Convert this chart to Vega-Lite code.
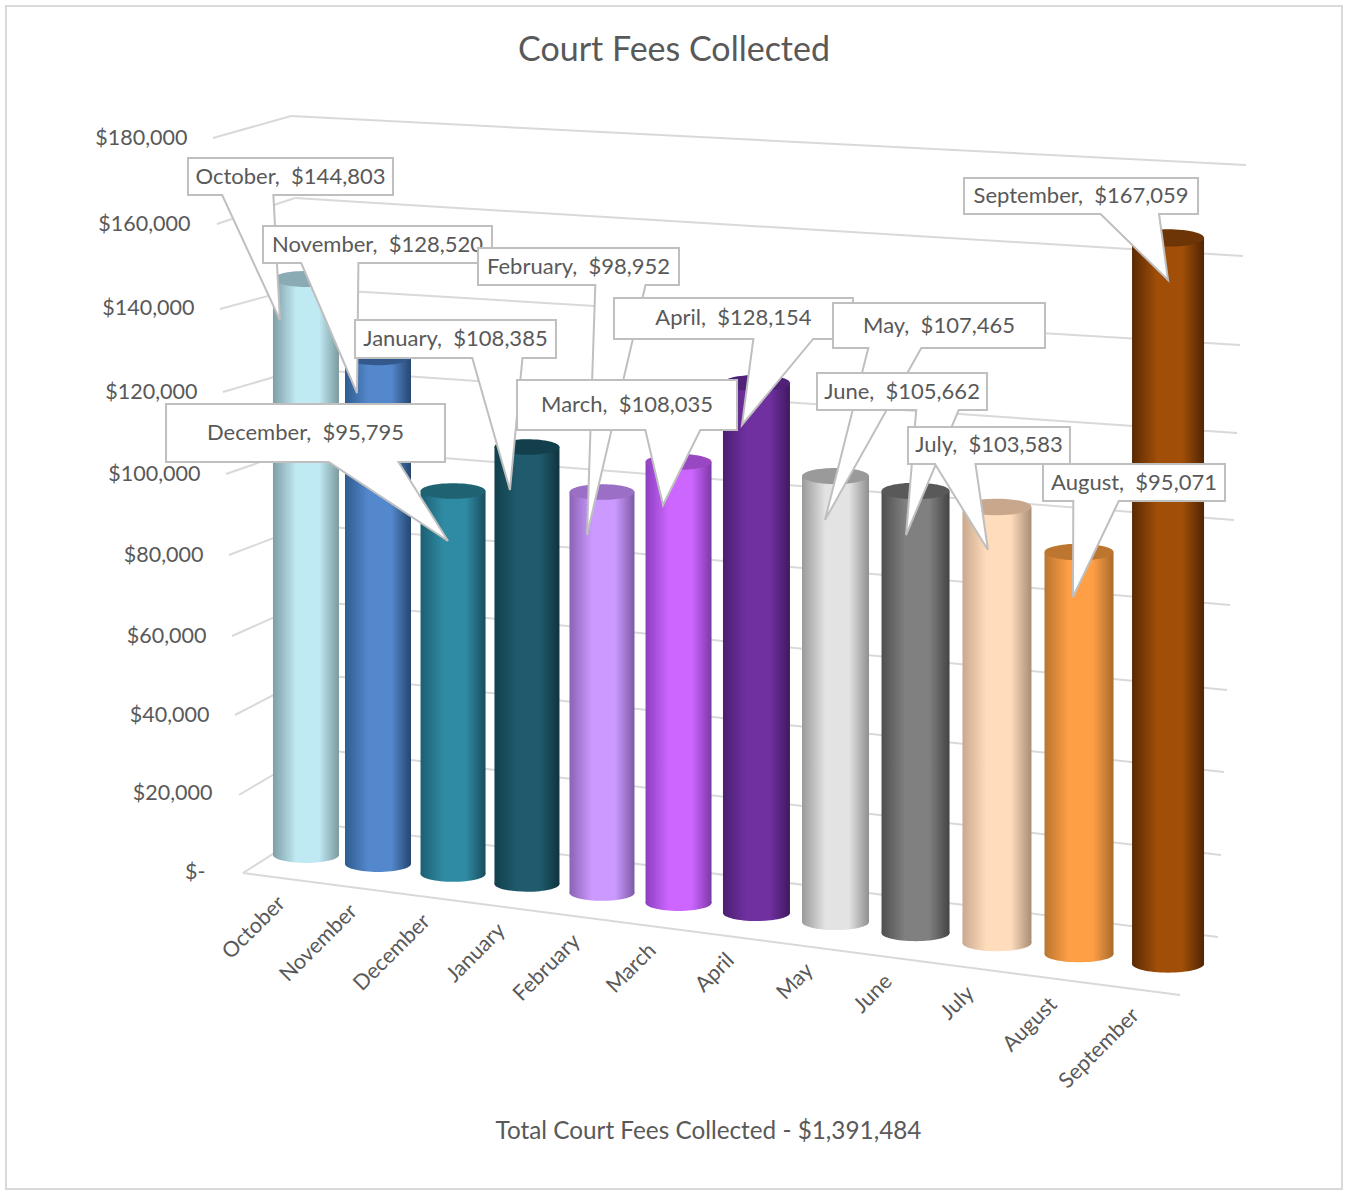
{
"$schema":"https://vega.github.io/schema/vega-lite/v6.json",
"width":1336,"height":1183,"autosize":{"type":"none"},"padding":{"left":6,"top":6,"right":6,"bottom":1},
"background":"white",
"view":{"stroke":"#d9d9d9","strokeWidth":2,"fill":"white"},
"title":{"text":"Court Fees Collected","font":"Lato","fontSize":34,"fontWeight":"normal","color":"#595959","anchor":"middle","offset":-62},
"data":{"values":[
{"month":"October","value":144803,"label":"October, \u00a0$144,803"},
{"month":"November","value":128520,"label":"November, \u00a0$128,520"},
{"month":"December","value":95795,"label":"December, \u00a0$95,795"},
{"month":"January","value":108385,"label":"January, \u00a0$108,385"},
{"month":"February","value":98952,"label":"February, \u00a0$98,952"},
{"month":"March","value":108035,"label":"March, \u00a0$108,035"},
{"month":"April","value":128154,"label":"April, \u00a0$128,154"},
{"month":"May","value":107465,"label":"May, \u00a0$107,465"},
{"month":"June","value":105662,"label":"June, \u00a0$105,662"},
{"month":"July","value":103583,"label":"July, \u00a0$103,583"},
{"month":"August","value":95071,"label":"August, \u00a0$95,071"},
{"month":"September","value":167059,"label":"September, \u00a0$167,059"}
]},
"encoding":{
"x":{"field":"month","type":"nominal","sort":null,"scale":{"type":"band","domain":["October","November","December","January","February","March","April","May","June","July","August","September"],"range":[259,1199],"padding":0},
"axis":{"title":"Total Court Fees Collected - $1,391,484","titleFont":"Lato","titleFontSize":24.3,"titleFontWeight":"normal","titleColor":"#595959","titleX":702,"titleY":231,"titleAlign":"center","titleBaseline":"middle","offset":-289,"domain":false,"ticks":false,"grid":false,"labelAngle":-45,"labelAlign":"right","labelBaseline":"middle","labelPadding":0,"labelFont":"Lato","labelFontSize":21.5,"labelColor":"#595959","labelOverlap":false,"labelBound":false,"labelFlush":false,
"encoding":{"labels":{
"dx":{"value":{"expr":"({October:-15.7,November:-25.8,December:-36.6,January:-45.4,February:-55.5,March:-63.5,April:-70.8,May:-77.4,June:-84.7,July:-90.6,August:-95.1,September:-100.3})[datum.value]"}},
"dy":{"value":{"expr":"({October:-15.7,November:-14.5,December:-11.2,January:-7.2,February:-1.8,March:3,April:9.8,May:17.3,June:25.6,July:36.6,August:47.7,September:58.1})[datum.value]"}}}}}},
"y":{"field":"value","type":"quantitative","scale":{"domain":[0,180000],"range":[894,138],"nice":false,"zero":false},
"axis":{"title":null,"values":[0,20000,40000,60000,80000,100000,120000,140000,160000,180000],"offset":-194,"domain":false,"ticks":false,"grid":false,"labelPadding":0,"labelFont":"Lato","labelFontSize":21.5,"labelColor":"#595959","labelOverlap":false,"labelBound":false,"labelExpr":"datum.value==0?'$-':'$'+format(datum.value,',')",
"encoding":{"labels":{
"dx":{"value":{"expr":"[5,12,9,6,3,0,-3,-6,-10,-13][datum.value/20000]"}},
"dy":{"value":{"expr":"[-28,-23,-17,-12,-9,-6,-4,-4,-4,-6][datum.value/20000]"}}}}}}
},
"layer":[
{"data":{"values":[{"tick":180000}]},"mark":{"type":"rule","color":"#d9d9d9","strokeWidth":2,"xOffset":-91.2,"yOffset":-6,"x2Offset":-13.2,"y2Offset":-28},"encoding":{"x":{"datum":"October","type":"nominal","title":null},"x2":{"datum":"October"},"y":{"field":"tick","type":"quantitative","title":null},"y2":{"field":"tick"}}},
{"data":{"values":[{"tick":160000}]},"mark":{"type":"rule","color":"#d9d9d9","strokeWidth":2,"xOffset":-87.2,"yOffset":-4,"x2Offset":-9.2,"y2Offset":-30},"encoding":{"x":{"datum":"October","type":"nominal","title":null},"x2":{"datum":"October"},"y":{"field":"tick","type":"quantitative","title":null},"y2":{"field":"tick"}}},
{"data":{"values":[{"tick":140000}]},"mark":{"type":"rule","color":"#d9d9d9","strokeWidth":2,"xOffset":-84.2,"yOffset":-3,"x2Offset":-6.2,"y2Offset":-24},"encoding":{"x":{"datum":"October","type":"nominal","title":null},"x2":{"datum":"October"},"y":{"field":"tick","type":"quantitative","title":null},"y2":{"field":"tick"}}},
{"data":{"values":[{"tick":120000}]},"mark":{"type":"rule","color":"#d9d9d9","strokeWidth":2,"xOffset":-81.2,"yOffset":-4,"x2Offset":-3.2,"y2Offset":-27},"encoding":{"x":{"datum":"October","type":"nominal","title":null},"x2":{"datum":"October"},"y":{"field":"tick","type":"quantitative","title":null},"y2":{"field":"tick"}}},
{"data":{"values":[{"tick":100000}]},"mark":{"type":"rule","color":"#d9d9d9","strokeWidth":2,"xOffset":-78.2,"yOffset":-6,"x2Offset":-0.2,"y2Offset":-33},"encoding":{"x":{"datum":"October","type":"nominal","title":null},"x2":{"datum":"October"},"y":{"field":"tick","type":"quantitative","title":null},"y2":{"field":"tick"}}},
{"data":{"values":[{"tick":80000}]},"mark":{"type":"rule","color":"#d9d9d9","strokeWidth":2,"xOffset":-75.2,"yOffset":-9,"x2Offset":3.8,"y2Offset":-39},"encoding":{"x":{"datum":"October","type":"nominal","title":null},"x2":{"datum":"October"},"y":{"field":"tick","type":"quantitative","title":null},"y2":{"field":"tick"}}},
{"data":{"values":[{"tick":60000}]},"mark":{"type":"rule","color":"#d9d9d9","strokeWidth":2,"xOffset":-72.2,"yOffset":-12,"x2Offset":6.8,"y2Offset":-47},"encoding":{"x":{"datum":"October","type":"nominal","title":null},"x2":{"datum":"October"},"y":{"field":"tick","type":"quantitative","title":null},"y2":{"field":"tick"}}},
{"data":{"values":[{"tick":40000}]},"mark":{"type":"rule","color":"#d9d9d9","strokeWidth":2,"xOffset":-69.2,"yOffset":-17,"x2Offset":9.8,"y2Offset":-58},"encoding":{"x":{"datum":"October","type":"nominal","title":null},"x2":{"datum":"October"},"y":{"field":"tick","type":"quantitative","title":null},"y2":{"field":"tick"}}},
{"data":{"values":[{"tick":20000}]},"mark":{"type":"rule","color":"#d9d9d9","strokeWidth":2,"xOffset":-65.2,"yOffset":-21,"x2Offset":12.8,"y2Offset":-67},"encoding":{"x":{"datum":"October","type":"nominal","title":null},"x2":{"datum":"October"},"y":{"field":"tick","type":"quantitative","title":null},"y2":{"field":"tick"}}},
{"data":{"values":[{"tick":0}]},"mark":{"type":"rule","color":"#d9d9d9","strokeWidth":2,"xOffset":-61.2,"yOffset":-27,"x2Offset":15.8,"y2Offset":-76},"encoding":{"x":{"datum":"October","type":"nominal","title":null},"x2":{"datum":"October"},"y":{"field":"tick","type":"quantitative","title":null},"y2":{"field":"tick"}}},

{"data":{"values":[{"tick":180000}]},"mark":{"type":"rule","color":"#d9d9d9","strokeWidth":2,"xOffset":-13.2,"yOffset":-28,"x2Offset":80.2,"y2Offset":21},"encoding":{"x":{"datum":"October","type":"nominal","title":null},"x2":{"datum":"September"},"y":{"field":"tick","type":"quantitative","title":null},"y2":{"field":"tick"}}},
{"data":{"values":[{"tick":160000}]},"mark":{"type":"rule","color":"#d9d9d9","strokeWidth":2,"xOffset":-9.2,"yOffset":-30,"x2Offset":77.2,"y2Offset":28},"encoding":{"x":{"datum":"October","type":"nominal","title":null},"x2":{"datum":"September"},"y":{"field":"tick","type":"quantitative","title":null},"y2":{"field":"tick"}}},
{"data":{"values":[{"tick":140000}]},"mark":{"type":"rule","color":"#d9d9d9","strokeWidth":2,"xOffset":-6.2,"yOffset":-24,"x2Offset":74.2,"y2Offset":33},"encoding":{"x":{"datum":"October","type":"nominal","title":null},"x2":{"datum":"September"},"y":{"field":"tick","type":"quantitative","title":null},"y2":{"field":"tick"}}},
{"data":{"values":[{"tick":120000}]},"mark":{"type":"rule","color":"#d9d9d9","strokeWidth":2,"xOffset":-3.2,"yOffset":-27,"x2Offset":71.2,"y2Offset":37},"encoding":{"x":{"datum":"October","type":"nominal","title":null},"x2":{"datum":"September"},"y":{"field":"tick","type":"quantitative","title":null},"y2":{"field":"tick"}}},
{"data":{"values":[{"tick":100000}]},"mark":{"type":"rule","color":"#d9d9d9","strokeWidth":2,"xOffset":-0.2,"yOffset":-33,"x2Offset":68.2,"y2Offset":40},"encoding":{"x":{"datum":"October","type":"nominal","title":null},"x2":{"datum":"September"},"y":{"field":"tick","type":"quantitative","title":null},"y2":{"field":"tick"}}},
{"data":{"values":[{"tick":80000}]},"mark":{"type":"rule","color":"#d9d9d9","strokeWidth":2,"xOffset":3.8,"yOffset":-39,"x2Offset":64.2,"y2Offset":41},"encoding":{"x":{"datum":"October","type":"nominal","title":null},"x2":{"datum":"September"},"y":{"field":"tick","type":"quantitative","title":null},"y2":{"field":"tick"}}},
{"data":{"values":[{"tick":60000}]},"mark":{"type":"rule","color":"#d9d9d9","strokeWidth":2,"xOffset":6.8,"yOffset":-47,"x2Offset":61.2,"y2Offset":42},"encoding":{"x":{"datum":"October","type":"nominal","title":null},"x2":{"datum":"September"},"y":{"field":"tick","type":"quantitative","title":null},"y2":{"field":"tick"}}},
{"data":{"values":[{"tick":40000}]},"mark":{"type":"rule","color":"#d9d9d9","strokeWidth":2,"xOffset":9.8,"yOffset":-58,"x2Offset":58.2,"y2Offset":40},"encoding":{"x":{"datum":"October","type":"nominal","title":null},"x2":{"datum":"September"},"y":{"field":"tick","type":"quantitative","title":null},"y2":{"field":"tick"}}},
{"data":{"values":[{"tick":20000}]},"mark":{"type":"rule","color":"#d9d9d9","strokeWidth":2,"xOffset":12.8,"yOffset":-67,"x2Offset":55.2,"y2Offset":39},"encoding":{"x":{"datum":"October","type":"nominal","title":null},"x2":{"datum":"September"},"y":{"field":"tick","type":"quantitative","title":null},"y2":{"field":"tick"}}},
{"data":{"values":[{"tick":0}]},"mark":{"type":"rule","color":"#d9d9d9","strokeWidth":2,"xOffset":15.8,"yOffset":-76,"x2Offset":52.2,"y2Offset":37},"encoding":{"x":{"datum":"October","type":"nominal","title":null},"x2":{"datum":"September"},"y":{"field":"tick","type":"quantitative","title":null},"y2":{"field":"tick"}}},
{"data":{"values":[{"tick":0}]},"mark":{"type":"rule","color":"#d9d9d9","strokeWidth":2,"xOffset":-61.2,"yOffset":-27,"x2Offset":14.2,"y2Offset":95},"encoding":{"x":{"datum":"October","type":"nominal","title":null},"x2":{"datum":"September"},"y":{"field":"tick","type":"quantitative","title":null},"y2":{"field":"tick"}}},

{"transform":[{"filter":"datum.month=='October'"}],"layer":[
{"mark":{"type":"point","shape":"M-1,0A1,0.24,0,1,1,1,0A1,0.24,0,1,1,-1,0Z","size":4356,"filled":true,"opacity":1,"strokeWidth":0,"xOffset":1.8,"yOffset":-45,"fill":{"gradient":"linear","x1":0,"x2":1,"y1":0,"y2":0,"stops":[{"offset":0,"color":"#7f9ea6"},{"offset":0.35,"color":"#bfe9f3"},{"offset":0.7,"color":"#bfe9f3"},{"offset":1,"color":"#7c9a9f"}]}},"encoding":{"y":{"datum":0,"type":"quantitative","title":null}}},
{"mark":{"type":"bar","width":66,"xOffset":1.8,"yOffset":-12.8,"y2Offset":-45,"fill":{"gradient":"linear","x1":0,"x2":1,"y1":0,"y2":0,"stops":[{"offset":0,"color":"#7f9ea6"},{"offset":0.35,"color":"#bfe9f3"},{"offset":0.7,"color":"#bfe9f3"},{"offset":1,"color":"#7c9a9f"}]}},"encoding":{"y2":{"datum":0}}},
{"mark":{"type":"point","shape":"M-1,0A1,0.24,0,1,1,1,0A1,0.24,0,1,1,-1,0Z","size":4356,"filled":true,"opacity":1,"strokeWidth":0,"xOffset":1.8,"yOffset":-12.8,"fill":"#8aabb4"}}
]},
{"transform":[{"filter":"datum.month=='November'"}],"layer":[
{"mark":{"type":"point","shape":"M-1,0A1,0.24,0,1,1,1,0A1,0.24,0,1,1,-1,0Z","size":4356,"filled":true,"opacity":1,"strokeWidth":0,"xOffset":-4.5,"yOffset":-36,"fill":{"gradient":"linear","x1":0,"x2":1,"y1":0,"y2":0,"stops":[{"offset":0,"color":"#2f5c8f"},{"offset":0.35,"color":"#5488cc"},{"offset":0.7,"color":"#5488cc"},{"offset":1,"color":"#25466f"}]}},"encoding":{"y":{"datum":0,"type":"quantitative","title":null}}},
{"mark":{"type":"bar","width":66,"xOffset":-4.5,"yOffset":-3,"y2Offset":-36,"fill":{"gradient":"linear","x1":0,"x2":1,"y1":0,"y2":0,"stops":[{"offset":0,"color":"#2f5c8f"},{"offset":0.35,"color":"#5488cc"},{"offset":0.7,"color":"#5488cc"},{"offset":1,"color":"#25466f"}]}},"encoding":{"y2":{"datum":0}}},
{"mark":{"type":"point","shape":"M-1,0A1,0.24,0,1,1,1,0A1,0.24,0,1,1,-1,0Z","size":4356,"filled":true,"opacity":1,"strokeWidth":0,"xOffset":-4.5,"yOffset":-3,"fill":"#33598c"}}
]},
{"transform":[{"filter":"datum.month=='December'"}],"layer":[
{"mark":{"type":"point","shape":"M-1,0A1,0.24,0,1,1,1,0A1,0.24,0,1,1,-1,0Z","size":4225,"filled":true,"opacity":1,"strokeWidth":0,"xOffset":-7.8,"yOffset":-26,"fill":{"gradient":"linear","x1":0,"x2":1,"y1":0,"y2":0,"stops":[{"offset":0,"color":"#1c5f72"},{"offset":0.35,"color":"#2f8ba3"},{"offset":0.7,"color":"#2f8ba3"},{"offset":1,"color":"#184c5c"}]}},"encoding":{"y":{"datum":0,"type":"quantitative","title":null}}},
{"mark":{"type":"bar","width":65,"xOffset":-7.8,"yOffset":-6.7,"y2Offset":-26,"fill":{"gradient":"linear","x1":0,"x2":1,"y1":0,"y2":0,"stops":[{"offset":0,"color":"#1c5f72"},{"offset":0.35,"color":"#2f8ba3"},{"offset":0.7,"color":"#2f8ba3"},{"offset":1,"color":"#184c5c"}]}},"encoding":{"y2":{"datum":0}}},
{"mark":{"type":"point","shape":"M-1,0A1,0.24,0,1,1,1,0A1,0.24,0,1,1,-1,0Z","size":4225,"filled":true,"opacity":1,"strokeWidth":0,"xOffset":-7.8,"yOffset":-6.7,"fill":"#1f6373"}}
]},
{"transform":[{"filter":"datum.month=='January'"}],"layer":[
{"mark":{"type":"point","shape":"M-1,0A1,0.24,0,1,1,1,0A1,0.24,0,1,1,-1,0Z","size":4225,"filled":true,"opacity":1,"strokeWidth":0,"xOffset":-12.2,"yOffset":-16,"fill":{"gradient":"linear","x1":0,"x2":1,"y1":0,"y2":0,"stops":[{"offset":0,"color":"#123f4c"},{"offset":0.35,"color":"#1f5b6c"},{"offset":0.7,"color":"#1f5b6c"},{"offset":1,"color":"#0f333e"}]}},"encoding":{"y":{"datum":0,"type":"quantitative","title":null}}},
{"mark":{"type":"bar","width":65,"xOffset":-12.2,"yOffset":2.2,"y2Offset":-16,"fill":{"gradient":"linear","x1":0,"x2":1,"y1":0,"y2":0,"stops":[{"offset":0,"color":"#123f4c"},{"offset":0.35,"color":"#1f5b6c"},{"offset":0.7,"color":"#1f5b6c"},{"offset":1,"color":"#0f333e"}]}},"encoding":{"y2":{"datum":0}}},
{"mark":{"type":"point","shape":"M-1,0A1,0.24,0,1,1,1,0A1,0.24,0,1,1,-1,0Z","size":4225,"filled":true,"opacity":1,"strokeWidth":0,"xOffset":-12.2,"yOffset":2.2,"fill":"#123f4b"}}
]},
{"transform":[{"filter":"datum.month=='February'"}],"layer":[
{"mark":{"type":"point","shape":"M-1,0A1,0.24,0,1,1,1,0A1,0.24,0,1,1,-1,0Z","size":4225,"filled":true,"opacity":1,"strokeWidth":0,"xOffset":-15.5,"yOffset":-7,"fill":{"gradient":"linear","x1":0,"x2":1,"y1":0,"y2":0,"stops":[{"offset":0,"color":"#8a63b5"},{"offset":0.35,"color":"#cb99ff"},{"offset":0.7,"color":"#cb99ff"},{"offset":1,"color":"#7d5aa5"}]}},"encoding":{"y":{"datum":0,"type":"quantitative","title":null}}},
{"mark":{"type":"bar","width":65,"xOffset":-15.5,"yOffset":7.6,"y2Offset":-7,"fill":{"gradient":"linear","x1":0,"x2":1,"y1":0,"y2":0,"stops":[{"offset":0,"color":"#8a63b5"},{"offset":0.35,"color":"#cb99ff"},{"offset":0.7,"color":"#cb99ff"},{"offset":1,"color":"#7d5aa5"}]}},"encoding":{"y2":{"datum":0}}},
{"mark":{"type":"point","shape":"M-1,0A1,0.24,0,1,1,1,0A1,0.24,0,1,1,-1,0Z","size":4225,"filled":true,"opacity":1,"strokeWidth":0,"xOffset":-15.5,"yOffset":7.6,"fill":"#9a6fc5"}}
]},
{"transform":[{"filter":"datum.month=='March'"}],"layer":[
{"mark":{"type":"point","shape":"M-1,0A1,0.24,0,1,1,1,0A1,0.24,0,1,1,-1,0Z","size":4356,"filled":true,"opacity":1,"strokeWidth":0,"xOffset":-17.3,"yOffset":3,"fill":{"gradient":"linear","x1":0,"x2":1,"y1":0,"y2":0,"stops":[{"offset":0,"color":"#8c3fc0"},{"offset":0.35,"color":"#cc66ff"},{"offset":0.7,"color":"#cc66ff"},{"offset":1,"color":"#7d38a8"}]}},"encoding":{"y":{"datum":0,"type":"quantitative","title":null}}},
{"mark":{"type":"bar","width":66,"xOffset":-17.3,"yOffset":15.7,"y2Offset":3,"fill":{"gradient":"linear","x1":0,"x2":1,"y1":0,"y2":0,"stops":[{"offset":0,"color":"#8c3fc0"},{"offset":0.35,"color":"#cc66ff"},{"offset":0.7,"color":"#cc66ff"},{"offset":1,"color":"#7d38a8"}]}},"encoding":{"y2":{"datum":0}}},
{"mark":{"type":"point","shape":"M-1,0A1,0.24,0,1,1,1,0A1,0.24,0,1,1,-1,0Z","size":4356,"filled":true,"opacity":1,"strokeWidth":0,"xOffset":-17.3,"yOffset":15.7,"fill":"#9a47c4"}}
]},
{"transform":[{"filter":"datum.month=='April'"}],"layer":[
{"mark":{"type":"point","shape":"M-1,0A1,0.24,0,1,1,1,0A1,0.24,0,1,1,-1,0Z","size":4489,"filled":true,"opacity":1,"strokeWidth":0,"xOffset":-17.7,"yOffset":13,"fill":{"gradient":"linear","x1":0,"x2":1,"y1":0,"y2":0,"stops":[{"offset":0,"color":"#4a1f72"},{"offset":0.35,"color":"#7030a0"},{"offset":0.7,"color":"#7030a0"},{"offset":1,"color":"#3f1a5f"}]}},"encoding":{"y":{"datum":0,"type":"quantitative","title":null}}},
{"mark":{"type":"bar","width":67,"xOffset":-17.7,"yOffset":21.2,"y2Offset":13,"fill":{"gradient":"linear","x1":0,"x2":1,"y1":0,"y2":0,"stops":[{"offset":0,"color":"#4a1f72"},{"offset":0.35,"color":"#7030a0"},{"offset":0.7,"color":"#7030a0"},{"offset":1,"color":"#3f1a5f"}]}},"encoding":{"y2":{"datum":0}}},
{"mark":{"type":"point","shape":"M-1,0A1,0.24,0,1,1,1,0A1,0.24,0,1,1,-1,0Z","size":4489,"filled":true,"opacity":1,"strokeWidth":0,"xOffset":-17.7,"yOffset":21.2,"fill":"#4f2278"}}
]},
{"transform":[{"filter":"datum.month=='May'"}],"layer":[
{"mark":{"type":"point","shape":"M-1,0A1,0.24,0,1,1,1,0A1,0.24,0,1,1,-1,0Z","size":4489,"filled":true,"opacity":1,"strokeWidth":0,"xOffset":-17,"yOffset":22,"fill":{"gradient":"linear","x1":0,"x2":1,"y1":0,"y2":0,"stops":[{"offset":0,"color":"#9a9a9a"},{"offset":0.35,"color":"#e3e3e3"},{"offset":0.7,"color":"#e3e3e3"},{"offset":1,"color":"#8f8f8f"}]}},"encoding":{"y":{"datum":0,"type":"quantitative","title":null}}},
{"mark":{"type":"bar","width":67,"xOffset":-17,"yOffset":27.4,"y2Offset":22,"fill":{"gradient":"linear","x1":0,"x2":1,"y1":0,"y2":0,"stops":[{"offset":0,"color":"#9a9a9a"},{"offset":0.35,"color":"#e3e3e3"},{"offset":0.7,"color":"#e3e3e3"},{"offset":1,"color":"#8f8f8f"}]}},"encoding":{"y2":{"datum":0}}},
{"mark":{"type":"point","shape":"M-1,0A1,0.24,0,1,1,1,0A1,0.24,0,1,1,-1,0Z","size":4489,"filled":true,"opacity":1,"strokeWidth":0,"xOffset":-17,"yOffset":27.4,"fill":"#9a9a9a"}}
]},
{"transform":[{"filter":"datum.month=='June'"}],"layer":[
{"mark":{"type":"point","shape":"M-1,0A1,0.24,0,1,1,1,0A1,0.24,0,1,1,-1,0Z","size":4624,"filled":true,"opacity":1,"strokeWidth":0,"xOffset":-15.3,"yOffset":33,"fill":{"gradient":"linear","x1":0,"x2":1,"y1":0,"y2":0,"stops":[{"offset":0,"color":"#4f4f4f"},{"offset":0.35,"color":"#808080"},{"offset":0.7,"color":"#808080"},{"offset":1,"color":"#444444"}]}},"encoding":{"y":{"datum":0,"type":"quantitative","title":null}}},
{"mark":{"type":"bar","width":68,"xOffset":-15.3,"yOffset":34.8,"y2Offset":33,"fill":{"gradient":"linear","x1":0,"x2":1,"y1":0,"y2":0,"stops":[{"offset":0,"color":"#4f4f4f"},{"offset":0.35,"color":"#808080"},{"offset":0.7,"color":"#808080"},{"offset":1,"color":"#444444"}]}},"encoding":{"y2":{"datum":0}}},
{"mark":{"type":"point","shape":"M-1,0A1,0.24,0,1,1,1,0A1,0.24,0,1,1,-1,0Z","size":4624,"filled":true,"opacity":1,"strokeWidth":0,"xOffset":-15.3,"yOffset":34.8,"fill":"#595959"}}
]},
{"transform":[{"filter":"datum.month=='July'"}],"layer":[
{"mark":{"type":"point","shape":"M-1,0A1,0.24,0,1,1,1,0A1,0.24,0,1,1,-1,0Z","size":4761,"filled":true,"opacity":1,"strokeWidth":0,"xOffset":-12.2,"yOffset":43,"fill":{"gradient":"linear","x1":0,"x2":1,"y1":0,"y2":0,"stops":[{"offset":0,"color":"#c9a98f"},{"offset":0.35,"color":"#ffdcbc"},{"offset":0.7,"color":"#ffdcbc"},{"offset":1,"color":"#a88d76"}]}},"encoding":{"y":{"datum":0,"type":"quantitative","title":null}}},
{"mark":{"type":"bar","width":69,"xOffset":-12.2,"yOffset":42,"y2Offset":43,"fill":{"gradient":"linear","x1":0,"x2":1,"y1":0,"y2":0,"stops":[{"offset":0,"color":"#c9a98f"},{"offset":0.35,"color":"#ffdcbc"},{"offset":0.7,"color":"#ffdcbc"},{"offset":1,"color":"#a88d76"}]}},"encoding":{"y2":{"datum":0}}},
{"mark":{"type":"point","shape":"M-1,0A1,0.24,0,1,1,1,0A1,0.24,0,1,1,-1,0Z","size":4761,"filled":true,"opacity":1,"strokeWidth":0,"xOffset":-12.2,"yOffset":42,"fill":"#c9a78c"}}
]},
{"transform":[{"filter":"datum.month=='August'"}],"layer":[
{"mark":{"type":"point","shape":"M-1,0A1,0.24,0,1,1,1,0A1,0.24,0,1,1,-1,0Z","size":4761,"filled":true,"opacity":1,"strokeWidth":0,"xOffset":-8.5,"yOffset":54,"fill":{"gradient":"linear","x1":0,"x2":1,"y1":0,"y2":0,"stops":[{"offset":0,"color":"#b97530"},{"offset":0.35,"color":"#ff9f45"},{"offset":0.7,"color":"#ff9f45"},{"offset":1,"color":"#a86a2c"}]}},"encoding":{"y":{"datum":0,"type":"quantitative","title":null}}},
{"mark":{"type":"bar","width":69,"xOffset":-8.5,"yOffset":51.3,"y2Offset":54,"fill":{"gradient":"linear","x1":0,"x2":1,"y1":0,"y2":0,"stops":[{"offset":0,"color":"#b97530"},{"offset":0.35,"color":"#ff9f45"},{"offset":0.7,"color":"#ff9f45"},{"offset":1,"color":"#a86a2c"}]}},"encoding":{"y2":{"datum":0}}},
{"mark":{"type":"point","shape":"M-1,0A1,0.24,0,1,1,1,0A1,0.24,0,1,1,-1,0Z","size":4761,"filled":true,"opacity":1,"strokeWidth":0,"xOffset":-8.5,"yOffset":51.3,"fill":"#bd7630"}}
]},
{"transform":[{"filter":"datum.month=='September'"}],"layer":[
{"mark":{"type":"point","shape":"M-1,0A1,0.24,0,1,1,1,0A1,0.24,0,1,1,-1,0Z","size":5184,"filled":true,"opacity":1,"strokeWidth":0,"xOffset":2.2,"yOffset":64,"fill":{"gradient":"linear","x1":0,"x2":1,"y1":0,"y2":0,"stops":[{"offset":0,"color":"#5a2a03"},{"offset":0.35,"color":"#a04e08"},{"offset":0.7,"color":"#a04e08"},{"offset":1,"color":"#4f2503"}]}},"encoding":{"y":{"datum":0,"type":"quantitative","title":null}}},
{"mark":{"type":"bar","width":72,"xOffset":2.2,"yOffset":39.6,"y2Offset":64,"fill":{"gradient":"linear","x1":0,"x2":1,"y1":0,"y2":0,"stops":[{"offset":0,"color":"#5a2a03"},{"offset":0.35,"color":"#a04e08"},{"offset":0.7,"color":"#a04e08"},{"offset":1,"color":"#4f2503"}]}},"encoding":{"y2":{"datum":0}}},
{"mark":{"type":"point","shape":"M-1,0A1,0.24,0,1,1,1,0A1,0.24,0,1,1,-1,0Z","size":5184,"filled":true,"opacity":1,"strokeWidth":0,"xOffset":2.2,"yOffset":39.6,"fill":"#6d3405"}}
]},

{"transform":[{"filter":"datum.month=='October'"}],"layer":[
{"mark":{"type":"point","shape":"M-102.5,-18.5H102.5V18.5H-17.1L-10.5,143.5L-68.3,18.5H-102.5Z","size":4,"filled":true,"fill":"white","stroke":"#bfbfbf","strokeWidth":2,"opacity":1,"xOffset":-13.7,"yOffset":-115.3}},
{"mark":{"type":"text","font":"Lato","fontSize":22,"fill":"#595959","align":"center","baseline":"middle","xOffset":-13.7,"yOffset":-115.3},"encoding":{"text":{"field":"label"}}}]},
{"transform":[{"filter":"datum.month=='November'"}],"layer":[
{"mark":{"type":"point","shape":"M-114.5,-18.5H114.5V18.5H-19.1L-20.5,148.5L-76.3,18.5H-114.5Z","size":4,"filled":true,"fill":"white","stroke":"#bfbfbf","strokeWidth":2,"opacity":1,"xOffset":-5,"yOffset":-115.7}},
{"mark":{"type":"text","font":"Lato","fontSize":22,"fill":"#595959","align":"center","baseline":"middle","xOffset":-5,"yOffset":-115.7},"encoding":{"text":{"field":"label"}}}]},
{"transform":[{"filter":"datum.month=='December'"}],"layer":[
{"mark":{"type":"point","shape":"M-139.5,-29H139.5V29H93L142.5,108L23.3,29H-139.5Z","size":4,"filled":true,"fill":"white","stroke":"#bfbfbf","strokeWidth":2,"opacity":1,"xOffset":-155.3,"yOffset":-64.7}},
{"mark":{"type":"text","font":"Lato","fontSize":22,"fill":"#595959","align":"center","baseline":"middle","xOffset":-155.3,"yOffset":-64.7},"encoding":{"text":{"field":"label"}}}]},
{"transform":[{"filter":"datum.month=='January'"}],"layer":[
{"mark":{"type":"point","shape":"M-100.5,-19H100.5V19H67L54.5,151L16.8,19H-100.5Z","size":4,"filled":true,"fill":"white","stroke":"#bfbfbf","strokeWidth":2,"opacity":1,"xOffset":-83.7,"yOffset":-105.8}},
{"mark":{"type":"text","font":"Lato","fontSize":22,"fill":"#595959","align":"center","baseline":"middle","xOffset":-83.7,"yOffset":-105.8},"encoding":{"text":{"field":"label"}}}]},
{"transform":[{"filter":"datum.month=='February'"}],"layer":[
{"mark":{"type":"point","shape":"M-100.5,-18.5H100.5V18.5H67L8.5,268.5L16.8,18.5H-100.5Z","size":4,"filled":true,"fill":"white","stroke":"#bfbfbf","strokeWidth":2,"opacity":1,"xOffset":-39,"yOffset":-217.9}},
{"mark":{"type":"text","font":"Lato","fontSize":22,"fill":"#595959","align":"center","baseline":"middle","xOffset":-39,"yOffset":-217.9},"encoding":{"text":{"field":"label"}}}]},
{"transform":[{"filter":"datum.month=='March'"}],"layer":[
{"mark":{"type":"point","shape":"M-110,-25H110V25H73.3L36,100L18.3,25H-110Z","size":4,"filled":true,"fill":"white","stroke":"#bfbfbf","strokeWidth":2,"opacity":1,"xOffset":-68.8,"yOffset":-41.3}},
{"mark":{"type":"text","font":"Lato","fontSize":22,"fill":"#595959","align":"center","baseline":"middle","xOffset":-68.8,"yOffset":-41.3},"encoding":{"text":{"field":"label"}}}]},
{"transform":[{"filter":"datum.month=='April'"}],"layer":[
{"mark":{"type":"point","shape":"M-119.5,-20.5H119.5V20.5H79.7L8.5,106.5L19.9,20.5H-119.5Z","size":4,"filled":true,"fill":"white","stroke":"#bfbfbf","strokeWidth":2,"opacity":1,"xOffset":-40.7,"yOffset":-43.3}},
{"mark":{"type":"text","font":"Lato","fontSize":22,"fill":"#595959","align":"center","baseline":"middle","xOffset":-40.7,"yOffset":-43.3},"encoding":{"text":{"field":"label"}}}]},
{"transform":[{"filter":"datum.month=='May'"}],"layer":[
{"mark":{"type":"point","shape":"M-106,-22.5H106V22.5H-17.7L-114,194.5L-70.7,22.5H-106Z","size":4,"filled":true,"fill":"white","stroke":"#bfbfbf","strokeWidth":2,"opacity":1,"xOffset":86.5,"yOffset":-123.1}},
{"mark":{"type":"text","font":"Lato","fontSize":22,"fill":"#595959","align":"center","baseline":"middle","xOffset":86.5,"yOffset":-123.1},"encoding":{"text":{"field":"label"}}}]},
{"transform":[{"filter":"datum.month=='June'"}],"layer":[
{"mark":{"type":"point","shape":"M-85,-18.5H85V18.5H56.7L4,143.5L14.2,18.5H-85Z","size":4,"filled":true,"fill":"white","stroke":"#bfbfbf","strokeWidth":2,"opacity":1,"xOffset":-28.8,"yOffset":-64.7}},
{"mark":{"type":"text","font":"Lato","fontSize":22,"fill":"#595959","align":"center","baseline":"middle","xOffset":-28.8,"yOffset":-64.7},"encoding":{"text":{"field":"label"}}}]},
{"transform":[{"filter":"datum.month=='July'"}],"layer":[
{"mark":{"type":"point","shape":"M-81,-18.5H81V18.5H-13.5L-1,104.5L-54,18.5H-81Z","size":4,"filled":true,"fill":"white","stroke":"#bfbfbf","strokeWidth":2,"opacity":1,"xOffset":-20.2,"yOffset":-19.5}},
{"mark":{"type":"text","font":"Lato","fontSize":22,"fill":"#595959","align":"center","baseline":"middle","xOffset":-20.2,"yOffset":-19.5},"encoding":{"text":{"field":"label"}}}]},
{"transform":[{"filter":"datum.month=='August'"}],"layer":[
{"mark":{"type":"point","shape":"M-91,-18.5H91V18.5H-15.2L-61,114.5L-60.7,18.5H-91Z","size":4,"filled":true,"fill":"white","stroke":"#bfbfbf","strokeWidth":2,"opacity":1,"xOffset":46.5,"yOffset":-18.2}},
{"mark":{"type":"text","font":"Lato","fontSize":22,"fill":"#595959","align":"center","baseline":"middle","xOffset":46.5,"yOffset":-18.2},"encoding":{"text":{"field":"label"}}}]},
{"transform":[{"filter":"datum.month=='September'"}],"layer":[
{"mark":{"type":"point","shape":"M-117,-18H117V18H78L87,84L19.5,18H-117Z","size":4,"filled":true,"fill":"white","stroke":"#bfbfbf","strokeWidth":2,"opacity":1,"xOffset":-84.8,"yOffset":-2.4}},
{"mark":{"type":"text","font":"Lato","fontSize":22,"fill":"#595959","align":"center","baseline":"middle","xOffset":-84.8,"yOffset":-2.4},"encoding":{"text":{"field":"label"}}}]}
]
}
